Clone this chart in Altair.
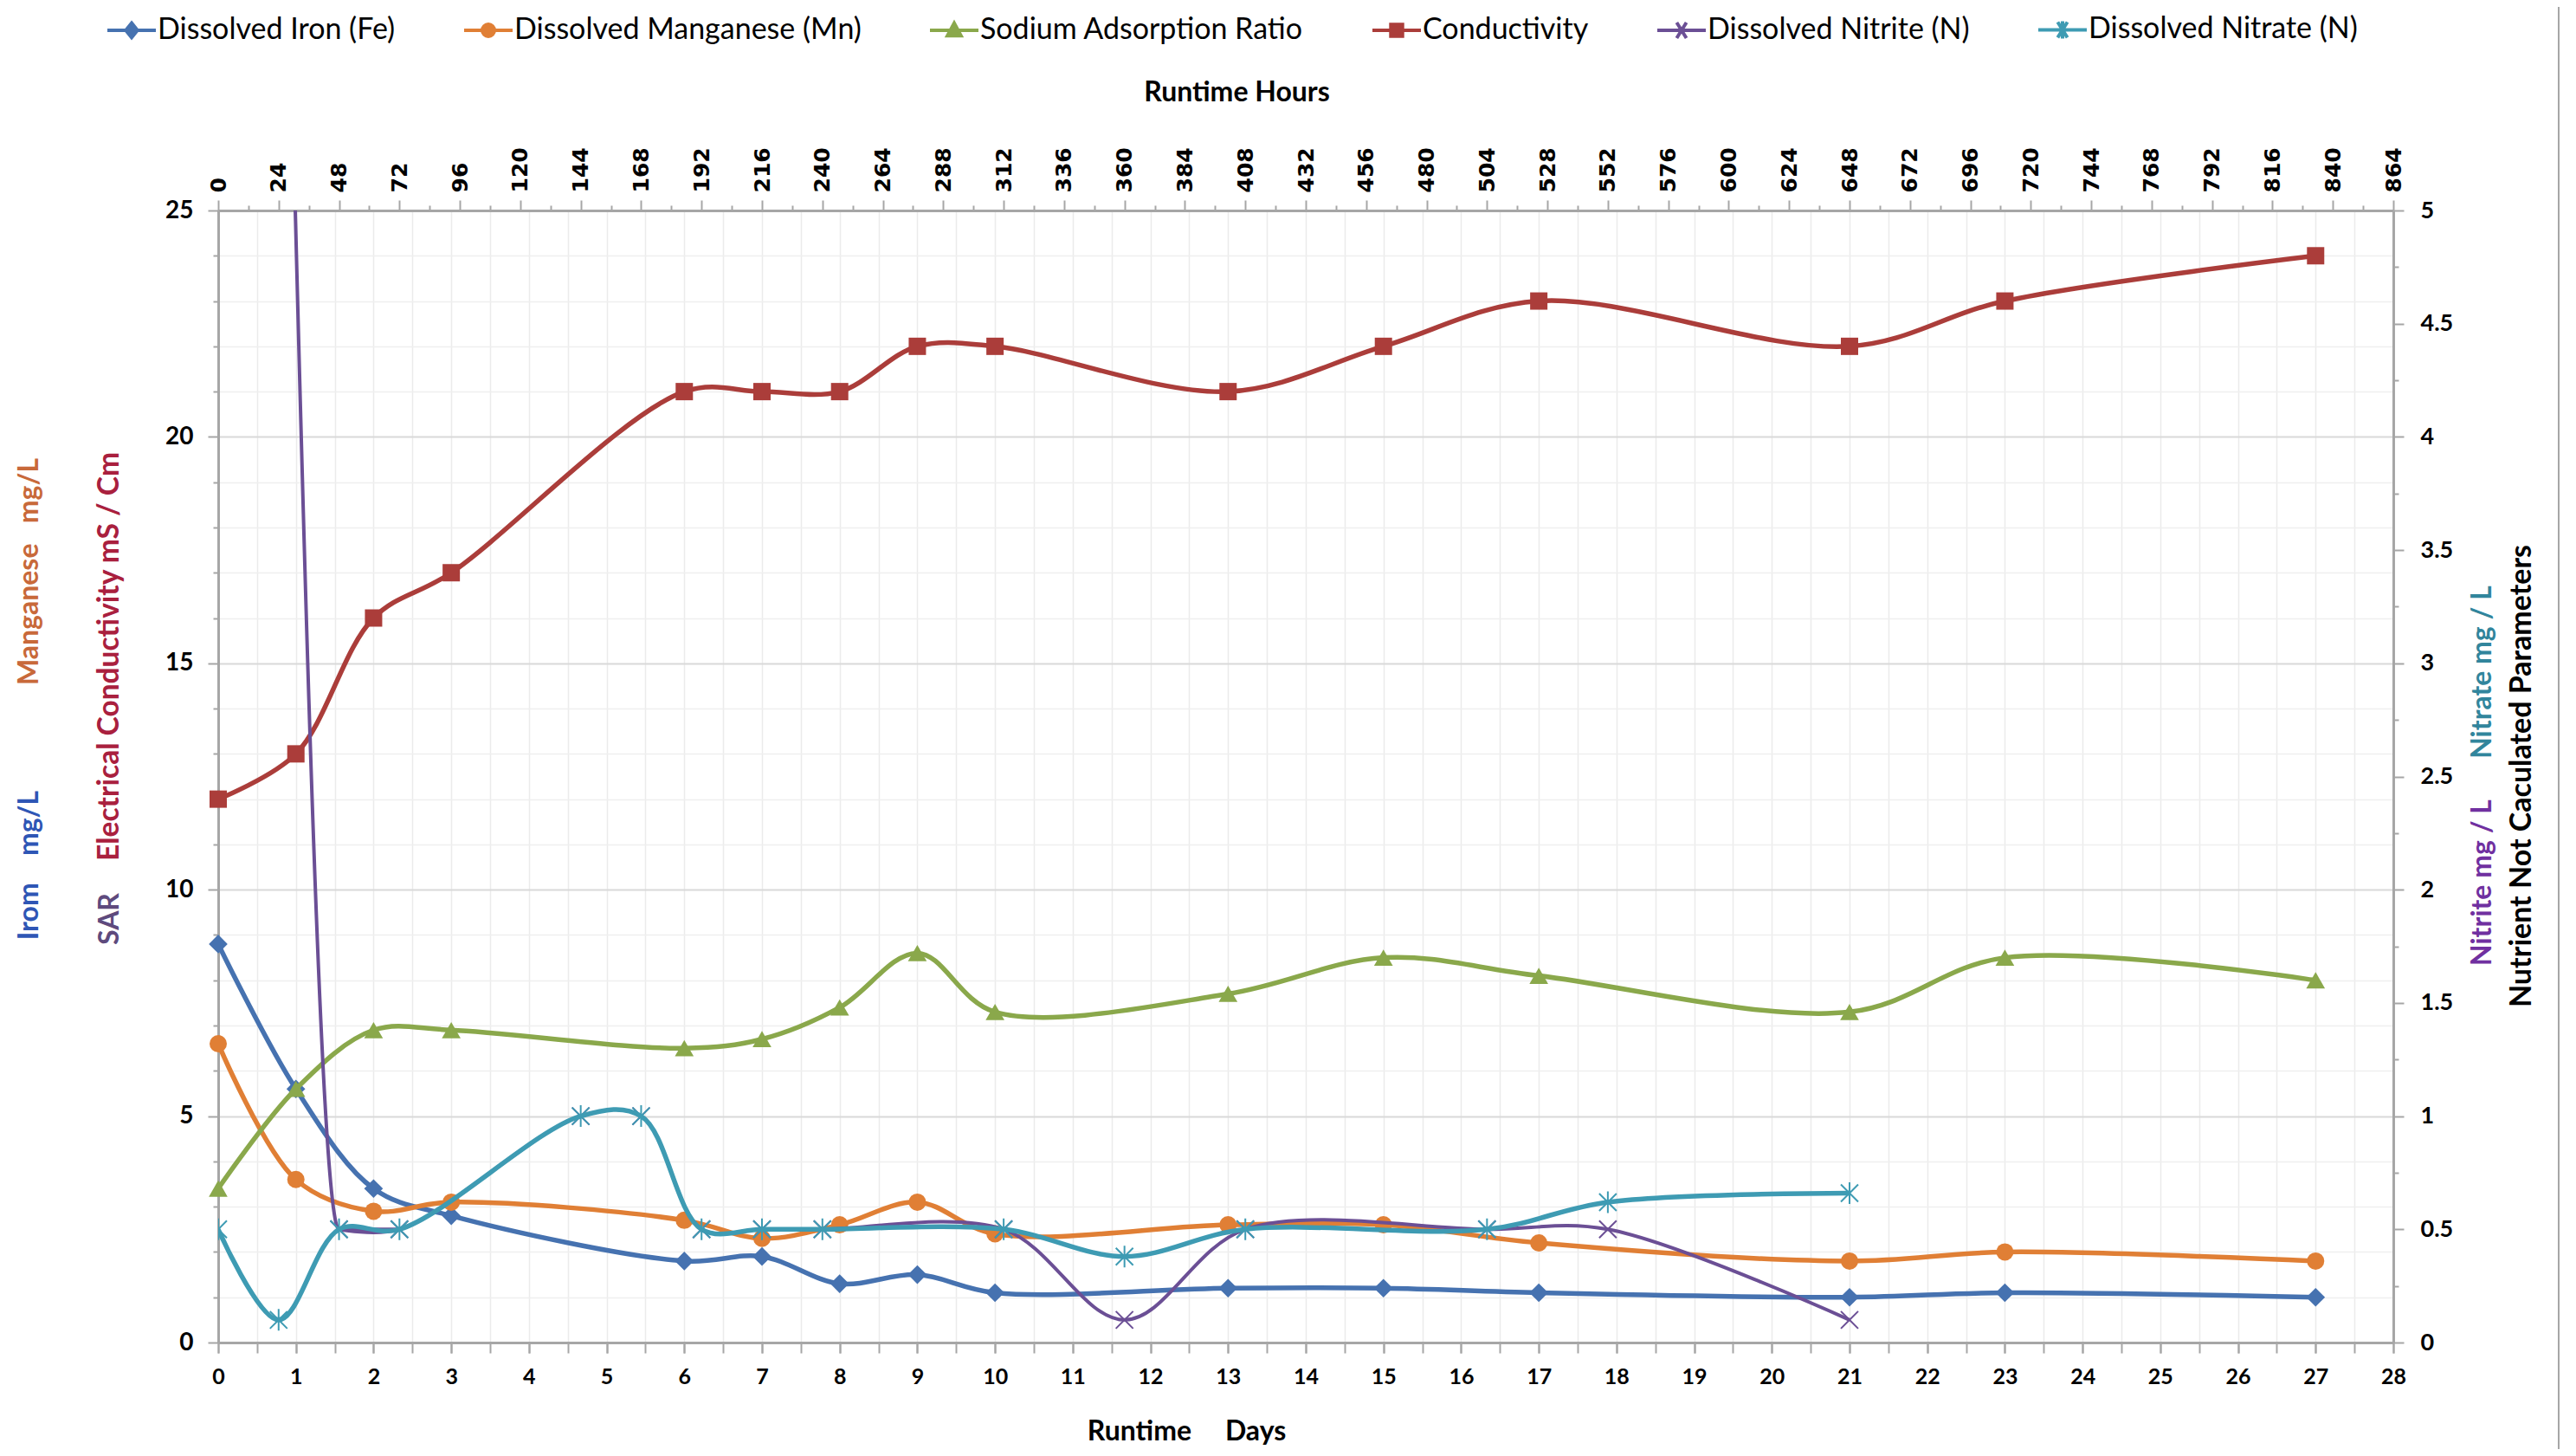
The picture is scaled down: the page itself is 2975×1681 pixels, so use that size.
import altair as alt
import pandas as pd

# ---------------- data ----------------
days = [0, 1, 2, 3, 6, 7, 8, 9, 10, 13, 15, 17, 21, 23, 27]
iron = [8.8, 5.6, 3.4, 2.8, 1.8, 1.9, 1.3, 1.5, 1.1, 1.2, 1.2, 1.1, 1.0, 1.1, 1.0]
manganese = [6.6, 3.6, 2.9, 3.1, 2.7, 2.3, 2.6, 3.1, 2.4, 2.6, 2.6, 2.2, 1.8, 2.0, 1.8]
sar = [3.4, 5.6, 6.9, 6.9, 6.5, 6.7, 7.4, 8.6, 7.3, 7.7, 8.5, 8.1, 7.3, 8.5, 8.0]
conductivity = [12, 13, 16, 17, 21, 21, 21, 22, 22, 21, 22, 23, 22, 23, 24]

hours = [0, 24, 48, 72, 144, 168, 192, 216, 240, 312, 360, 408, 504, 552, 648]
nitrite = [None, 8.0, 0.5, 0.5, 1.0, 1.0, 0.5, 0.5, 0.5, 0.5, 0.1, 0.5, 0.5, 0.5, 0.1]
nitrate = [0.5, 0.1, 0.5, 0.5, 1.0, 1.0, 0.5, 0.5, 0.5, 0.5, 0.38, 0.5, 0.5, 0.62, 0.66]

series_names = ["Dissolved Iron (Fe)", "Dissolved Manganese (Mn)", "Sodium Adsorption Ratio",
                "Conductivity", "Dissolved Nitrite (N)", "Dissolved Nitrate (N)"]
colors = ["#4672b0", "#e07f35", "#8aa84b", "#ab3d3a", "#6b4f95", "#3e9bb3"]

day_ticks = list(range(0, 29))
half_day_ticks = [i / 2 for i in range(57)]
hour_ticks = list(range(0, 865, 24))
minor_hour_ticks = list(range(12, 864, 24))
left_ticks = [0, 5, 10, 15, 20, 25]
minor_left = [v for v in range(26) if v % 5]
right_ticks = [0, 0.5, 1, 1.5, 2, 2.5, 3, 3.5, 4, 4.5, 5]
minor_right = [0.25, 0.75, 1.25, 1.75, 2.25, 2.75, 3.25, 3.75, 4.25, 4.75]

# ---------------- tables ----------------
prim_rows = []
for name, vals in zip(series_names[:4], [iron, manganese, sar, conductivity]):
    for d, v in zip(days, vals):
        prim_rows.append({"series": name, "day": d, "value": v})
prim = pd.DataFrame(prim_rows)

sec_rows = []
for name, vals in zip(series_names[4:], [nitrite, nitrate]):
    for h, v in zip(hours, vals):
        if v is not None:
            sec_rows.append({"series": name, "hour": h, "value": v})
sec = pd.DataFrame(sec_rows)

AX = "#a6a6a6"
FONT = "Lato"

# ---------------- encodings ----------------
x_days = alt.X("day:Q", scale=alt.Scale(domain=[0, 28], nice=False, zero=False),
               axis=alt.Axis(orient="bottom", values=day_ticks, ticks=True, tickSize=12,
                             tickColor=AX, tickWidth=2, grid=False, domainColor=AX, domainWidth=3,
                             labelFont=FONT, labelFontWeight="bold", labelFontSize=25,
                             labelColor="black", labelPadding=15, labelFlush=False,
                             title="Runtime\u00a0\u00a0\u00a0\u00a0\u00a0Days", titleFont=FONT,
                             titleFontSize=32, titleFontWeight="bold", titleColor="black",
                             titleX=1118, titleY=102, titleBaseline="middle", titleAlign="center"))
y_left = alt.Y("value:Q", scale=alt.Scale(domain=[0, 25], nice=False),
               axis=alt.Axis(orient="left", values=left_ticks, tickSize=12, tickColor=AX,
                             tickWidth=2, grid=True, gridColor="#d9d9d9", gridWidth=2,
                             domainColor=AX, domainWidth=3, labelFont=FONT,
                             labelFontWeight="bold", labelFontSize=28, labelColor="black",
                             labelPadding=17, labelFlush=False, title=None))
x_hours = alt.X("hour:Q", scale=alt.Scale(domain=[0, 864], nice=False, zero=False),
                axis=alt.Axis(orient="top", values=hour_ticks, tickSize=12, tickColor=AX,
                              tickWidth=2, grid=False, domainColor=AX, domainWidth=3,
                              labelAngle=270, labelFont="DejaVu Sans", labelFontWeight="bold",
                              labelFontSize=25, labelColor="black", labelPadding=9,
                              labelFlush=False,
                              title="Runtime Hours", titleFont=FONT, titleFontSize=32,
                              titleFontWeight="bold", titleColor="black", titleX=1176,
                              titleY=-137, titleBaseline="middle", titleAlign="center"))
y_right = alt.Y("value:Q", scale=alt.Scale(domain=[0, 5], nice=False),
                axis=alt.Axis(orient="right", values=right_ticks, format="~g", tickSize=12,
                              tickColor=AX, tickWidth=2, grid=False, domainColor=AX,
                              domainWidth=3, labelFont=FONT, labelFontWeight="bold",
                              labelFontSize=27, labelColor="black", labelPadding=19,
                              labelFlush=False, title=None))

# ---------------- primary series ----------------
prim_shapes = ["diamond", "circle", "triangle-up", "square"]
prim_sizes = [470, 400, 470, 400]
prim_layers = []
for name, col, shp, sz in zip(series_names[:4], colors[:4], prim_shapes, prim_sizes):
    base = alt.Chart(prim).transform_filter(alt.datum.series == name)
    prim_layers.append(base.mark_line(color=col, strokeWidth=5.5, interpolate="catmull-rom")
                       .encode(x=x_days, y=y_left))
    prim_layers.append(base.mark_point(shape=shp, filled=True, color=col, size=sz, opacity=1)
                       .encode(x=x_days, y=y_left))

# axis titles drawn as text
titles = [
    ("Irom\u00a0\u00a0\u00a0\u00a0mg/L", "#2e56b5", -218, 756, 32),
    ("Manganese\u00a0\u00a0\u00a0mg/L", "#c8693a", -218, 417, 32),
    ("Electrical Conductivity mS / Cm", "#a9203e", -125, 515, 33.5),
    ("SAR", "#5e4a7d", -125, 818, 32),
    ("Nitrite mg / L", "#7030a0", 2615, 776, 32),
    ("Nitrate mg / L", "#31859c", 2615, 533, 32),
    ("Nutrient Not Caculated Parameters", "black", 2661, 653, 34),
]
for txt, col, px, py, fs in titles:
    prim_layers.append(
        alt.Chart(pd.DataFrame({"t": [txt]})).mark_text(
            angle=270, align="center", baseline="middle", font=FONT, fontSize=fs,
            fontWeight="bold", color=col
        ).encode(x=alt.value(px), y=alt.value(py), text="t:N")
    )

# outer chart frame
for fx in [-248, 2703]:
    prim_layers.append(
        alt.Chart(pd.DataFrame({"f": [0]})).mark_rule(color="#a6a6a6", strokeWidth=2)
        .encode(x=alt.value(fx), y=alt.value(-243), y2=alt.value(1438))
    )

layer_a = alt.layer(*prim_layers)

# ---------------- secondary series (top / right axes) ----------------
x_path = "M-1,-1L1,1M1,-1L-1,1"
star_path = "M-1,-1L1,1M1,-1L-1,1M0,-1.25L0,1.25"
nitrite_base = alt.Chart(sec).transform_filter(alt.datum.series == series_names[4])
nitrate_base = alt.Chart(sec).transform_filter(alt.datum.series == series_names[5])
sec_layers = [
    # first steep drop of the nitrite curve, then the smooth remainder
    nitrite_base.transform_filter(alt.datum.hour <= 72)
    .mark_line(color=colors[4], strokeWidth=4, interpolate="monotone", clip=True)
    .encode(x=x_hours, y=y_right),
    nitrite_base.transform_filter(alt.datum.hour >= 48)
    .mark_line(color=colors[4], strokeWidth=4, interpolate="catmull-rom", clip=True)
    .encode(x=x_hours, y=y_right),
    nitrite_base.mark_point(shape=x_path, filled=False, color=colors[4], size=400,
                            strokeWidth=2, opacity=1, clip=True)
    .encode(x=x_hours, y=y_right),
    nitrate_base.mark_line(color=colors[5], strokeWidth=5.5, interpolate="catmull-rom", clip=True)
    .encode(x=x_hours, y=y_right),
    nitrate_base.mark_point(shape=star_path, filled=False, color=colors[5], size=400,
                            strokeWidth=2, opacity=1, clip=True)
    .encode(x=x_hours, y=y_right),
]
layer_b = alt.layer(*sec_layers)

# ---------------- minor grid + legend layer ----------------
# legend symbols: a short line with the series marker on it (wider than the symbol box)
legend_paths = [
    "M-2,0L2,0M0,-0.6L0.48,0L0,0.6L-0.48,0Z",
    "M-2,0L2,0M-0.5,0A0.5,0.5,0,1,0,0.5,0A0.5,0.5,0,1,0,-0.5,0Z",
    "M-2,0L2,0M0,-0.6L0.56,0.44L-0.56,0.44Z",
    "M-2,0L2,0M-0.48,-0.48L0.48,-0.48L0.48,0.48L-0.48,0.48Z",
    "M-2,0L2,0M-0.4,-0.64L0.4,0.64M0.4,-0.64L-0.4,0.64",
    "M-2,0L2,0M-0.4,-0.64L0.4,0.64M0.4,-0.64L-0.4,0.64M0,-0.72L0,0.72",
]
leg = alt.Legend(orient="none", legendX=-117, legendY=-226, direction="horizontal", title=None,
                 symbolSize=784, symbolStrokeWidth=4, symbolOpacity=1, labelFont=FONT,
                 labelFontSize=34, labelColor="black", labelLimit=2000, columnPadding=71,
                 labelOffset=13)
legend_df = pd.DataFrame({"series": series_names, "day": [0] * 6, "value": [0] * 6})
layer_c = alt.Chart(legend_df).transform_filter("false").mark_point(filled=False).encode(
    x=alt.X("day:Q", scale=alt.Scale(domain=[0, 28], nice=False, zero=False),
            axis=alt.Axis(orient="bottom", values=half_day_ticks, labels=False, domain=False,
                          tickSize=12, tickColor=AX, tickWidth=2, grid=True,
                          gridColor="#ebebeb", gridWidth=1.5, title=None)),
    y=alt.Y("value:Q", scale=alt.Scale(domain=[0, 25], nice=False),
            axis=alt.Axis(orient="left", values=minor_left, labels=False, domain=False,
                          tickSize=6, tickColor=AX, tickWidth=2, grid=True,
                          gridColor="#efefef", gridWidth=1.5, title=None)),
    stroke=alt.Stroke("series:N", scale=alt.Scale(domain=series_names, range=colors), legend=leg),
    fill=alt.Fill("series:N", scale=alt.Scale(domain=series_names, range=colors), legend=leg),
    shape=alt.Shape("series:N", scale=alt.Scale(domain=series_names, range=legend_paths), legend=leg),
)

# minor ticks of the hour axis and the right axis
minor_df = pd.DataFrame({"hour": [0], "value": [0]})
layer_d = alt.Chart(minor_df).transform_filter("false").mark_point().encode(
    x=alt.X("hour:Q", scale=alt.Scale(domain=[0, 864], nice=False, zero=False),
            axis=alt.Axis(orient="top", values=minor_hour_ticks, labels=False, domain=False,
                          tickSize=6, tickColor=AX, tickWidth=2, grid=False, title=None)),
    y=alt.Y("value:Q", scale=alt.Scale(domain=[0, 5], nice=False),
            axis=alt.Axis(orient="right", values=minor_right, labels=False, domain=False,
                          tickSize=6, tickColor=AX, tickWidth=2, grid=False, title=None)),
)

chart = (
    alt.layer(layer_c, layer_d, layer_a, layer_b)
    .resolve_scale(x="independent", y="independent")
    .properties(width=2512, height=1307,
                padding={"left": 244, "top": 235, "right": 203, "bottom": 123},
                autosize=alt.AutoSizeParams(type="none"))
    .configure_view(stroke=None)
    .configure(background="white")
)

chart.save("out.html", embed_options={"renderer": "svg", "actions": False})
